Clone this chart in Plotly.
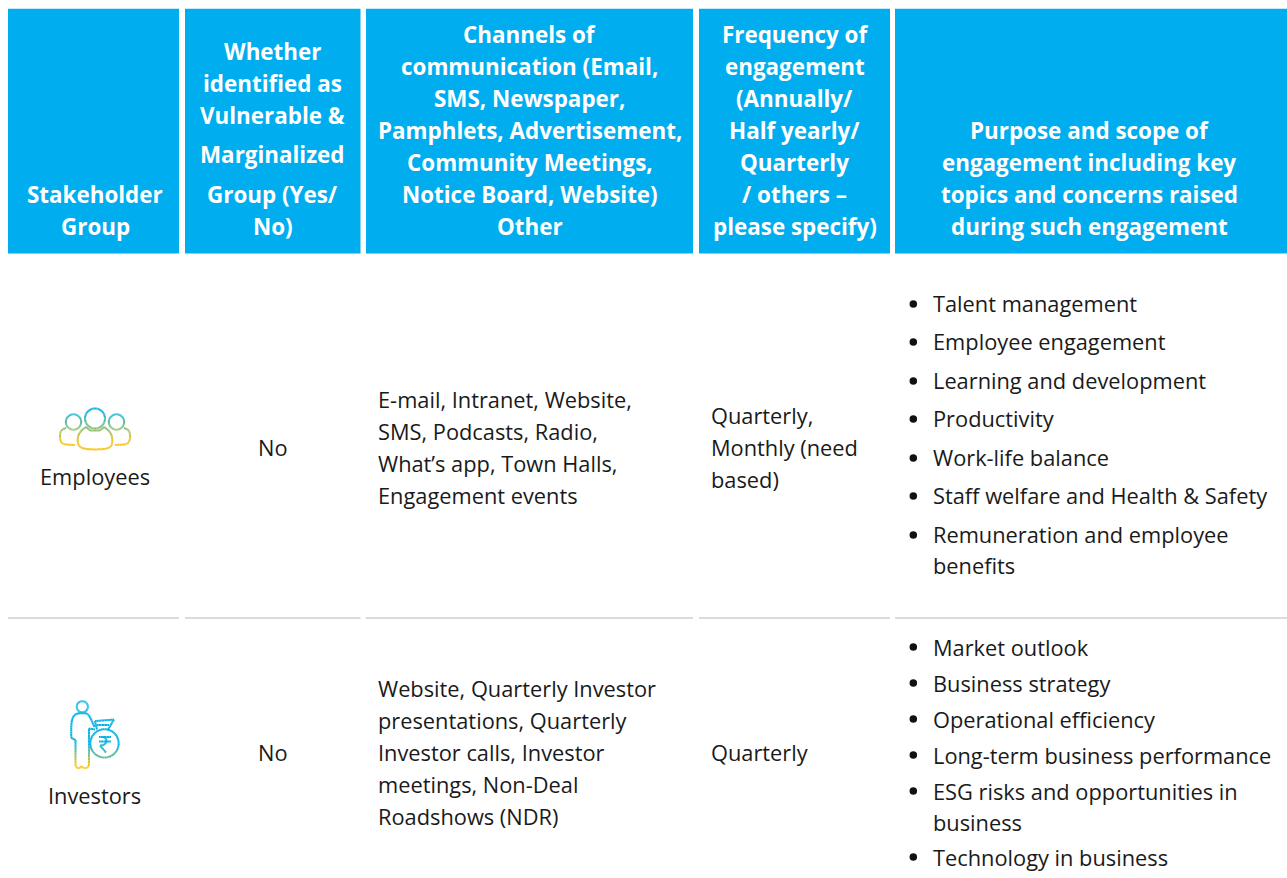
import math
import plotly.graph_objects as go

W, H = 1287, 878
FONT = "Open Sans"
HEAD_BLUE = "#00aeef"
INK = "#1a1a1a"

header_labels = [
    ["Stakeholder", "Group"],
    ["Whether", "identified as", "Vulnerable &", "Marginalized", "Group (Yes/", "No)"],
    ["Channels of", "communication (Email,", "SMS, Newspaper,", "Pamphlets, Advertisement,",
     "Community Meetings,", "Notice Board, Website)", "Other"],
    ["Frequency of", "engagement", "(Annually/", "Half yearly/", "Quarterly", "/ others –", "please specify)"],
    ["Purpose and scope of", "engagement including key", "topics and concerns raised", "during such engagement"],
]
header_line_y = [
    [194, 226],
    [51, 83, 115, 154, 194, 226],
    [34, 66, 98, 130, 162, 194, 226],
    [34, 66, 98, 130, 162, 194, 226],
    [130, 162, 194, 226],
]
col_left = [8, 185, 366, 699, 895]
col_right = [179, 360.5, 693, 890, 1287]
col_text_center = [95, 272.5, 529.5, 794.5, 1089]

stakeholders = ["Employees", "Investors"]
vulnerable = ["No", "No"]
channels = [
    ["E-mail, Intranet, Website,", "SMS, Podcasts, Radio,", "What’s app, Town Halls,", "Engagement events"],
    ["Website, Quarterly Investor", "presentations, Quarterly", "Investor calls, Investor",
     "meetings, Non-Deal", "Roadshows (NDR)"],
]
channels_y = [[399, 431, 463, 495], [688, 720, 752, 784, 816]]
frequency = [["Quarterly,", "Monthly (need", "based)"], ["Quarterly"]]
frequency_y = [[415, 447, 479], [752]]
purpose = [
    ["Talent management", "Employee engagement", "Learning and development", "Productivity",
     "Work-life balance", "Staff welfare and Health & Safety", "Remuneration and employee", "benefits"],
    ["Market outlook", "Business strategy", "Operational efficiency", "Long-term business performance",
     "ESG risks and opportunities in", "business", "Technology in business"],
]
purpose_y = [[303, 341, 380, 418, 457, 495, 534, 565], [647, 683, 719, 755, 791, 822, 857]]
purpose_continuation = [{"benefits"}, {"business"}]
bullet_offset = [1, 0]
stakeholder_y = [476, 795]
vulnerable_y = [447, 752]

fig = go.Figure()
shapes, notes = [], []


def note(text, x, y, size, anchor="left", bold=False, color=INK):
    notes.append(dict(text=text, x=x, y=y, xref="x", yref="y", showarrow=False,
                      xanchor=anchor, yanchor="middle", borderpad=0, borderwidth=0,
                      font=dict(family=FONT, size=size, color=color,
                                weight=700 if bold else 400)))


for left, right, cx, lines, ys in zip(col_left, col_right, col_text_center, header_labels, header_line_y):
    shapes.append(dict(type="rect", x0=left, x1=right, y0=8.7, y1=253.6, xref="x", yref="y",
                       fillcolor=HEAD_BLUE, line_width=0, layer="below"))
    for text, y in zip(lines, ys):
        note(text, cx, y, 22.4, "center", True, "#ffffff")
    shapes.append(dict(type="line", x0=left, x1=right, y0=618, y1=618, xref="x", yref="y",
                       line=dict(color="#cfcfcf", width=1.5), layer="below"))

BODY = 21.8
for row in range(2):
    note(stakeholders[row], 94.5, stakeholder_y[row], BODY, "center")
    note(vulnerable[row], 272.5, vulnerable_y[row], BODY, "center")
    for t, y in zip(channels[row], channels_y[row]):
        note(t, 378, y, BODY)
    for t, y in zip(frequency[row], frequency_y[row]):
        note(t, 711, y, BODY)
    for t, y in zip(purpose[row], purpose_y[row]):
        note(t, 933, y, BODY)

bullet_y = [y + bullet_offset[row] for row in range(2) for t, y in zip(purpose[row], purpose_y[row])
            if t not in purpose_continuation[row]]
fig.add_trace(go.Scatter(x=[913.3] * len(bullet_y), y=bullet_y, mode="markers",
                         marker=dict(color="#111111", size=7.5), hoverinfo="skip", showlegend=False))


# ---- decorative icons, stroked with a vertical cyan-to-yellow gradient ----
def lerp(a, b, t):
    return a + (b - a) * t


CY, YE = (0, 178, 236), (255, 200, 20)
N_BINS = 14
bins = [([], []) for _ in range(N_BINS)]


def stroke(pts, top, bottom):
    for (x0, y0), (x1, y1) in zip(pts, pts[1:]):
        n = max(1, int(math.hypot(x1 - x0, y1 - y0) / 1.5))
        for i in range(n):
            ax, ay = lerp(x0, x1, i / n), lerp(y0, y1, i / n)
            bx, by = lerp(x0, x1, (i + 1) / n), lerp(y0, y1, (i + 1) / n)
            t = min(1, max(0, ((ay + by) / 2 - top) / (bottom - top)))
            k = min(N_BINS - 1, int(t * N_BINS))
            bins[k][0].extend([ax, bx, None])
            bins[k][1].extend([ay, by, None])


def circle(cx, cy, r, a0=0, a1=360, n=48):
    return [(cx + r * math.cos(math.radians(lerp(a0, a1, i / n))),
             cy + r * math.sin(math.radians(lerp(a0, a1, i / n)))) for i in range(n + 1)]


def bez(p0, p1, p2, p3, n=10):
    out = []
    for i in range(n + 1):
        t = i / n
        u = 1 - t
        out.append((u**3*p0[0] + 3*u*u*t*p1[0] + 3*u*t*t*p2[0] + t**3*p3[0],
                    u**3*p0[1] + 3*u*u*t*p1[1] + 3*u*t*t*p2[1] + t**3*p3[1]))
    return out


# employees icon
T, B = 411, 443
stroke(circle(95, 418.5, 10), T, B)
stroke(circle(73.5, 422, 7.7), T, B)
stroke(circle(116.5, 422, 7.7), T, B)
stroke(bez((86, 427), (80, 431), (78, 434), (77.7, 440)) + bez((77.7, 440), (77.5, 449), (84, 449), (95, 449.5))
       + bez((95, 449.5), (107, 449), (113, 449), (112.3, 440)) + bez((112.3, 440), (112, 434), (110, 431), (104, 427))
       + [(104, 427), (100, 430.5), (90, 430.5), (86, 427)], T, B)
stroke(bez((66, 428), (62, 429), (60, 431), (60, 436)) + bez((60, 436), (60, 441), (61, 444), (66, 444.5))
       + [(66, 444.5), (75, 445)], T, B)
stroke(bez((124, 428), (128, 429), (130, 431), (130, 436)) + bez((130, 436), (130, 441), (129, 444), (124, 444.5))
       + [(124, 444.5), (115, 445)], T, B)
# investors icon
T, B = 742, 766
stroke(circle(82.3, 706.8, 5.6), T, B)
stroke([(71.3, 738)] + bez((71.3, 738), (71, 722), (71, 714), (79, 713.3)) + [(79, 713.3), (86, 713.3)]
       + bez((86, 713.3), (89, 714), (91, 719), (94.5, 727)), T, B)
stroke([(71.3, 738), (75.5, 740), (75.5, 765)] + bez((75.5, 765), (76, 769), (80, 769), (81.5, 766))
       + bez((81.5, 766), (83, 769), (88, 769), (89, 765)) + [(89, 765), (89, 728.5)], T, B)
stroke([(89, 728.5), (95, 729.5)], T, B)
stroke(circle(104.5, 743.4, 14.2), T, B + 12)
stroke([(97, 729.5), (95, 721), (114, 719.5), (108, 729.5)], T, B)
stroke([(97, 725), (109, 725)], T, B)
stroke([(99, 737), (111, 737)], 740, 800)
stroke([(99, 741.5), (111, 741.5)], 740, 800)
stroke(bez((103, 737), (108, 737), (108, 746), (100, 745.5)) + [(100, 745.5), (106, 752.5)], 740, 800)

for k, (xs, ys) in enumerate(bins):
    t = (k + 0.5) / N_BINS
    col = "rgb(%d,%d,%d)" % tuple(round(lerp(a, b, t)) for a, b in zip(CY, YE))
    if xs:
        fig.add_trace(go.Scatter(x=xs, y=ys, mode="lines", line=dict(color=col, width=2),
                                 hoverinfo="skip", showlegend=False))

fig.update_layout(
    width=W, height=H, margin=dict(l=0, r=0, t=0, b=0, pad=0),
    paper_bgcolor="#ffffff", plot_bgcolor="#ffffff", showlegend=False,
    xaxis=dict(range=[0, W], visible=False, fixedrange=True),
    yaxis=dict(range=[H, 0], visible=False, fixedrange=True),
    shapes=shapes, annotations=notes,
)
fig.write_html("out.html", config={"displayModeBar": False},
               post_script="document.body.style.margin='0';document.body.style.overflow='hidden';")
